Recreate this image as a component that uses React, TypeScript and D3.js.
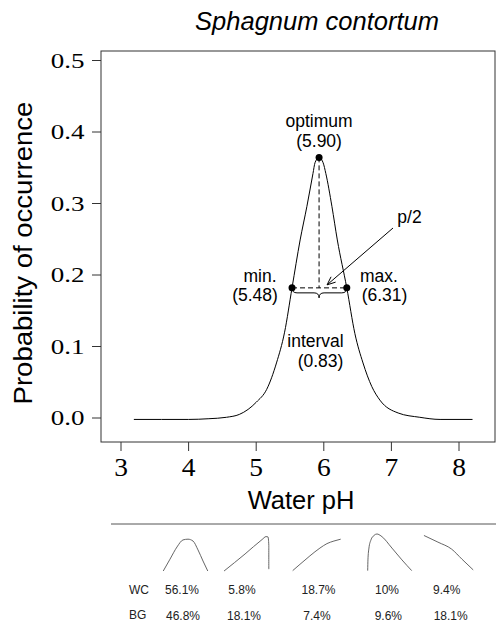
import React from "react";
import * as d3 from "d3";

// ---- main response curve ----
const phValues = [3.19, 3.6, 4.0, 4.3, 4.56, 4.75, 4.88, 5.0, 5.155, 5.3, 5.42, 5.53, 5.65, 5.75, 5.84, 5.87, 5.93, 5.99, 6.03, 6.12, 6.2, 6.34, 6.46, 6.58, 6.71, 6.83, 7.1, 7.42, 7.72, 8.2];
const probValues = [-0.002, -0.002, -0.002, -0.001, 0.001, 0.005, 0.012, 0.022, 0.04, 0.077, 0.12, 0.182, 0.249, 0.296, 0.342, 0.357, 0.3645, 0.357, 0.342, 0.296, 0.249, 0.182, 0.118, 0.077, 0.044, 0.025, 0.007, 0.001, -0.002, -0.002];

// annotation points: min, optimum, max
const annotPh = [5.53, 5.93, 6.34];
const annotProb = [0.182, 0.3645, 0.182];
const annotLabels = ["min.", "optimum", "max."];
const annotValues = ["(5.48)", "(5.90)", "(6.31)"];
const intervalLabel = "interval";
const intervalValue = "(0.83)";

const xTicks = [3, 4, 5, 6, 7, 8];
const yTicks = [0.0, 0.1, 0.2, 0.3, 0.4, 0.5];

// ---- mini curve shapes (normalized) ----
const miniX = [
  [-0.89, -0.62, -0.34, -0.1, 0.1, 0.3, 0.5, 0.7, 0.89],
  [-0.89, -0.05, 0.63, 0.79, 0.87, 0.9, 0.9],
  [-0.96, -0.67, -0.27, 0.13, 0.41, 0.69, 0.96],
  [-0.88, -0.87, -0.83, -0.75, -0.63, -0.51, -0.35, 0.09, 0.49, 0.88],
  [-0.99, -0.43, 0.12, 0.53, 0.98],
];
const miniY = [
  [0, 0.32, 0.65, 0.84, 0.86, 0.81, 0.57, 0.27, 0],
  [0, 0.46, 0.85, 0.93, 0.92, 0.7, 0.05],
  [0.01, 0.18, 0.41, 0.62, 0.74, 0.81, 0.86],
  [0.01, 0.3, 0.62, 0.84, 0.96, 1.0, 0.95, 0.62, 0.3, 0.01],
  [0.96, 0.78, 0.59, 0.32, 0.03],
];
const rowLabels = ["WC", "BG"];
const wcValues = ["56.1%", "5.8%", "18.7%", "10%", "9.4%"];
const bgValues = ["46.8%", "18.1%", "7.4%", "9.6%", "18.1%"];

// layout
const W = 496, H = 622;
const box = { l: 101, t: 51, r: 495, b: 442 };
const miniCenters = [185.5, 246.3, 316.7, 389.7, 448.7];
const wcCenters = [182, 242, 318.5, 387, 446.7];
const bgCenters = [183, 244, 317, 388.3, 450.7];

const sans = "'Liberation Sans', Arial, Helvetica, sans-serif";
const serif = "'Liberation Serif', 'Times New Roman', Times, serif";

function T(props: any) {
  const { x, y, size, anchor = "middle", family = sans, sx = 1, italic = false, rotate = 0, fill = "#000", children } = props;
  return (
    <text
      transform={`translate(${x},${y}) rotate(${rotate}) scale(${sx},1)`}
      fontSize={size}
      fontFamily={family}
      fontStyle={italic ? "italic" : "normal"}
      textAnchor={anchor}
      fill={fill}
    >
      {children}
    </text>
  );
}

export default function App() {
  const x = d3.scaleLinear().domain([3, 8]).range([121, 459]);
  const y = d3.scaleLinear().domain([0, 0.5]).range([418, 60.5]);
  const line = d3
    .line<number>()
    .x((_, i) => x(phValues[i]))
    .y((_, i) => y(probValues[i]))
    .curve(d3.curveMonotoneX);
  const pathD = line(phValues) || "";

  const [minPx, optPx, maxPx] = annotPh.map((p) => x(p));
  const optPy = y(annotProb[1]);
  const halfPy = y(annotProb[0]);

  const brace = `M${minPx},${halfPy} Q${minPx},${halfPy + 5} ${minPx + 5},${halfPy + 5} L${optPx - 5},${halfPy + 5} Q${optPx},${halfPy + 5} ${optPx},${halfPy + 10} Q${optPx},${halfPy + 5} ${optPx + 5},${halfPy + 5} L${maxPx - 5},${halfPy + 5} Q${maxPx},${halfPy + 5} ${maxPx},${halfPy}`;

  // arrow from p/2 label to horizontal dashed line
  const ax0 = 393, ay0 = 228;
  const ax1 = optPx + 8, ay1 = halfPy - 3;
  const ang = Math.atan2(ay1 - ay0, ax1 - ax0);
  const ah = 9;
  const head = `M${ax1 + ah * Math.cos(ang + Math.PI - 0.4)},${ay1 + ah * Math.sin(ang + Math.PI - 0.4)} L${ax1},${ay1} L${ax1 + ah * Math.cos(ang + Math.PI + 0.4)},${ay1 + ah * Math.sin(ang + Math.PI + 0.4)}`;

  const my = d3.scaleLinear().domain([0, 1]).range([571, 534]);

  return (
    <svg width={W} height={H} style={{ position: "absolute", left: 0, top: 0, background: "#fff" }}>
      <rect x={0} y={0} width={W} height={H} fill="#fff" />
      {/* title */}
      <T x={317} y={30} size={25.5} italic>Sphagnum contortum</T>
      {/* box */}
      <rect x={box.l} y={box.t} width={box.r - box.l} height={box.b - box.t} fill="none" stroke="#333" strokeWidth={1} />
      {/* y ticks */}
      {yTicks.map((t) => (
        <g key={"y" + t}>
          <line x1={92} x2={box.l} y1={y(t)} y2={y(t)} stroke="#333" />
          <T x={84.5} y={y(t) + 7.3} size={20} family={serif} anchor="end" sx={1.35}>{t.toFixed(1)}</T>
        </g>
      ))}
      {/* x ticks */}
      {xTicks.map((t) => (
        <g key={"x" + t}>
          <line x1={x(t)} x2={x(t)} y1={box.b} y2={451} stroke="#333" />
          <T x={x(t)} y={476} size={25} family={serif} sx={1.1}>{String(t)}</T>
        </g>
      ))}
      {/* axis labels */}
      <T x={32} y={253} size={25.5} rotate={-90} sx={1.08}>Probability of occurrence</T>
      <T x={301} y={509} size={25.5}>Water pH</T>

      {/* curve */}
      <path d={pathD} fill="none" stroke="#000" strokeWidth={1} />
      {/* dashed guides */}
      <line x1={optPx} x2={optPx} y1={optPy} y2={halfPy} stroke="#000" strokeDasharray="5,3" />
      <line x1={minPx} x2={maxPx} y1={halfPy} y2={halfPy} stroke="#000" strokeDasharray="5,3" />
      <path d={brace} fill="none" stroke="#000" strokeWidth={1} />
      {/* arrow */}
      <line x1={ax0} y1={ay0} x2={ax1} y2={ay1} stroke="#000" />
      <path d={head} fill="none" stroke="#000" />
      {/* points */}
      {annotPh.map((p, i) => (
        <circle key={"pt" + i} cx={x(p)} cy={y(annotProb[i])} r={3.5} fill="#000" />
      ))}
      {/* annotation text */}
      <T x={optPx} y={127} size={17.5}>{annotLabels[1]}</T>
      <T x={optPx} y={147} size={17.5}>{annotValues[1]}</T>
      <T x={260} y={281.5} size={17.5}>{annotLabels[0]}</T>
      <T x={255} y={300.5} size={17.5}>{annotValues[0]}</T>
      <T x={379} y={281.5} size={17.5}>{annotLabels[2]}</T>
      <T x={384.5} y={300.5} size={17.5}>{annotValues[2]}</T>
      <T x={315.5} y={346.5} size={17.5}>{intervalLabel}</T>
      <T x={320.5} y={367} size={17.5}>{intervalValue}</T>
      <T x={409.5} y={223} size={17.5}>p/2</T>

      {/* bottom panel */}
      <line x1={111} x2={496} y1={524} y2={524} stroke="#555" strokeWidth={1} />
      {miniX.map((xs, k) => {
        const mx = d3.scaleLinear().domain([-1, 1]).range([miniCenters[k] - 25, miniCenters[k] + 25]);
        const ml = d3
          .line<number>()
          .x((v) => mx(v))
          .y((_, i) => my(miniY[k][i]))
          .curve(d3.curveMonotoneX);
        return <path key={"m" + k} d={ml(xs) || ""} fill="none" stroke="#555" strokeWidth={0.9} />;
      })}
      <T x={129} y={594} size={12} anchor="start" fill="#222">{rowLabels[0]}</T>
      <T x={129} y={618.5} size={12} anchor="start" fill="#222">{rowLabels[1]}</T>
      {wcValues.map((v, i) => (
        <T key={"wc" + i} x={wcCenters[i]} y={594.3} size={12} fill="#222">{v}</T>
      ))}
      {bgValues.map((v, i) => (
        <T key={"bg" + i} x={bgCenters[i]} y={619.5} size={12} fill="#222">{v}</T>
      ))}
    </svg>
  );
}
